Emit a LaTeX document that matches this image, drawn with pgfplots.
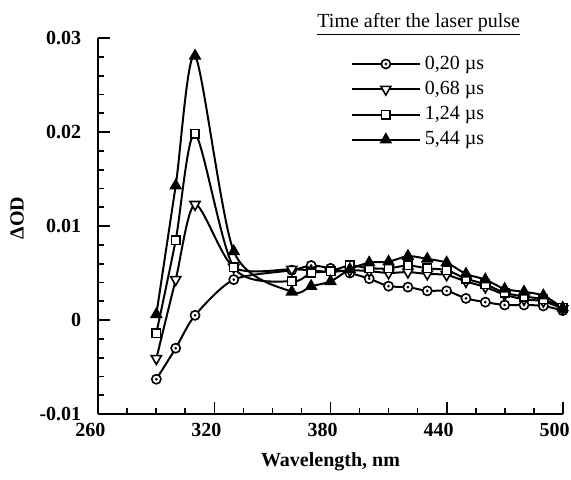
\documentclass[border=0pt]{standalone}
\usepackage{fontspec}
\setmainfont{Liberation Serif}
\usepackage{pgfplots}
\usepackage{pgfplotstable}
\pgfplotsset{compat=1.18}

\pgfdeclareplotmark{odot}{%
  \pgfpathcircle{\pgfpointorigin}{\pgfplotmarksize}%
  \pgfusepathqfillstroke
  \pgfscope
  \pgfsetfillcolor{black}%
  \pgfpathcircle{\pgfpointorigin}{0.32\pgfplotmarksize}%
  \pgfusepathqfill
  \endpgfscope
}

\pgfplotstableread{
wl a b c d
290 -0.0063 -0.0041 -0.0014 0.0006
300 -0.0030 0.0043 0.0085 0.0143
310 0.0005 0.0123 0.0198 0.0281
330 0.0043 0.0056 0.0056 0.0073
360 0.0053 0.0054 0.0041 0.0030
370 0.0058 0.0053 0.0050 0.0036
380 0.0055 0.0051 0.0052 0.0041
390 0.0050 0.0053 0.0058 0.0054
400 0.0044 0.0052 0.0055 0.0061
410 0.0036 0.0050 0.0055 0.0062
420 0.0035 0.0051 0.0058 0.0068
430 0.0031 0.0049 0.0055 0.0065
440 0.0031 0.0048 0.0053 0.0061
450 0.0023 0.0041 0.0044 0.0049
460 0.0019 0.0035 0.0038 0.0043
470 0.0016 0.0027 0.0029 0.0033
480 0.0016 0.0022 0.0025 0.0030
490 0.0015 0.0020 0.0022 0.0026
500 0.0010 0.0012 0.0013 0.0013
}\data

\begin{document}
\begin{tikzpicture}
\begin{axis}[
  name=ax,
  scale only axis,
  width=232.2pt, height=188pt,
  xmin=260, xmax=500, ymin=-0.01, ymax=0.03,
  axis lines*=left,
  axis line style={line width=1pt},
  tick align=inside,
  major tick length=6pt, minor tick length=3pt,
  every tick/.style={black, line width=0.9pt},
  xtick={260,320,380,440,500},
  ytick={-0.01,0,0.01,0.02,0.03},
  yticklabels={-0.01,0,0.01,0.02,0.03},
  xticklabels={260,320,380,440,500},
  minor x tick num=3,
  minor y tick num=4,
  scaled y ticks=false,
  tick label style={font=\bfseries},
  yticklabel style={xshift=-5pt},
  xticklabel style={yshift=-1pt, xshift=-4pt},
  xlabel={\bfseries Wavelength, nm},
  ylabel={\bfseries ΔOD},
  xlabel style={yshift=-1pt},
  ylabel style={yshift=1pt, xshift=4pt},
  clip=false,
  legend image code/.code={%
    \draw[mark repeat=2,mark phase=2] plot coordinates {(0pt,0pt) (17pt,0pt) (34pt,0pt)};},
  legend style={at={(rel axis cs:0.53,0.975)}, anchor=north west, draw=none, fill=none,
    font=\fontsize{10}{12}\selectfont, row sep=0.5pt, cells={anchor=west},
    nodes={font=\fontsize{10}{12}\selectfont}},
]
\addplot[black, line width=1pt, smooth, tension=0.45, mark=odot, mark size=2.3pt,
  mark options={fill=white, solid, line width=0.8pt}] table[x=wl,y=a]{\data};
\addlegendentry{{0,20 µs}}
\addplot[black, line width=1pt, smooth, tension=0.45, mark=triangle*, mark size=2.9pt,
  mark options={fill=white, solid, line width=0.8pt, rotate=180}] table[x=wl,y=b]{\data};
\addlegendentry{{0,68 µs}}
\addplot[black, line width=1pt, smooth, tension=0.45, mark=square*, mark size=2.1pt,
  mark options={fill=white, solid, line width=0.8pt}] table[x=wl,y=c]{\data};
\addlegendentry{{1,24 µs}}
\addplot[black, line width=1pt, smooth, tension=0.45, mark=triangle*, mark size=2.9pt,
  mark options={fill=black, solid, line width=0.8pt}] table[x=wl,y=d]{\data};
\addlegendentry{{5,44 µs}}
\node at (rel axis cs:0.69,1.036) {\underline{Time after the laser pulse}};
\end{axis}
\pgfresetboundingbox
\path[use as bounding box] ([shift={(-49.15pt,-32.5pt)}]ax.south west) rectangle ([shift={(236.35pt,207pt)}]ax.south west);
\end{tikzpicture}
\end{document}
